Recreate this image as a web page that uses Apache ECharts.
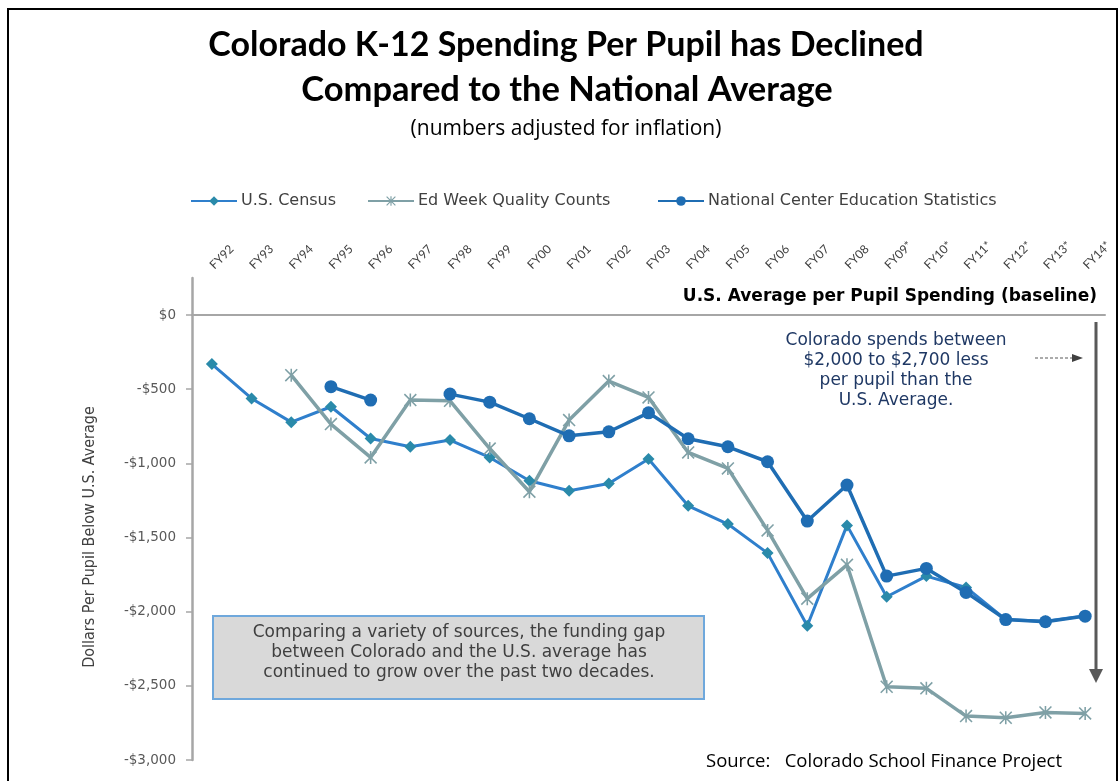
<!DOCTYPE html>
<html>
<head>
<meta charset="utf-8">
<script src="https://cdn.jsdelivr.net/npm/echarts@6/dist/echarts.min.js"></script>
<style>html,body{margin:0;padding:0;background:#fff;}#c{width:1120px;height:781px;}</style>
</head>
<body>
<div id="c"></div>
<script>
const categories = ['FY92','FY93','FY94','FY95','FY96','FY97','FY98','FY99','FY00','FY01','FY02','FY03','FY04','FY05','FY06','FY07','FY08','FY09*','FY10*','FY11*','FY12*','FY13*','FY14*'];
const usCensus = [-330,-562,-722,-618,-832,-888,-843,-960,-1117,-1185,-1135,-971,-1286,-1409,-1605,-2095,-1418,-1899,-1760,-1837,-2053,-2064,-2028];
const edWeek = [null,null,-405,-735,-960,-573,-578,-900,-1191,-708,-445,-555,-926,-1034,-1452,-1912,-1684,-2506,-2517,-2704,-2715,-2679,-2686];
const nces = [null,null,null,-483,-573,null,-533,-587,-699,-814,-787,-659,-834,-888,-989,-1389,-1146,-1760,-1708,-1870,-2053,-2068,-2030];
const yTicks = [-3000,-2500,-2000,-1500,-1000,-500,0];
const seriesNames = ['U.S. Census','Ed Week Quality Counts','National Center Education Statistics'];

const chart = echarts.init(document.getElementById('c'));
const asterisk = 'path://M4.4,0L5.6,0L5.6,10L4.4,10Z M0,0.85L0.85,0L10,9.15L9.15,10Z M9.15,0L10,0.85L0.85,10L0,9.15Z';
const F = '"Open Sans", sans-serif';
const D = '"DejaVu Sans", sans-serif';
function fmt(v){ return v === 0 ? '$0' : '-$' + Math.abs(v).toLocaleString('en-US'); }
const legendLeft = [185, 362, 652];
function mkLegend(i){
  return {
    left: legendLeft[i], top: 188, itemWidth: 46, itemHeight: 12, itemGap: 0,
    textStyle: { fontFamily: D, fontSize: 16, color: '#404040', padding: [0, 0, 0, -1] },
    data: [seriesNames[i]]
  };
}

chart.setOption({
  animation: false,
  backgroundColor: '#fff',
  grid: { left: 192, right: 15, top: 278, bottom: 21, containLabel: false },
  legend: [mkLegend(0), mkLegend(1), mkLegend(2)],
  xAxis: {
    type: 'category', data: categories, position: 'top',
    axisLine: { onZero: true, lineStyle: { color: '#A6A6A6', width: 2 } },
    axisTick: { inside: true, length: 5, lineStyle: { color: '#A6A6A6', width: 1.5 } },
    axisLabel: { rotate: 45, margin: 11, fontFamily: 'Lato, sans-serif', fontSize: 12, color: '#404040', interval: 0 },
    splitLine: { show: false }
  },
  yAxis: {
    type: 'value', min: -3000, max: 250,
    axisLine: { show: true, lineStyle: { color: '#A6A6A6', width: 2.5 } },
    axisTick: { show: true, length: 6, customValues: yTicks, lineStyle: { color: '#A6A6A6', width: 1.5 } },
    axisLabel: { customValues: yTicks, formatter: fmt, margin: 16, fontFamily: D, fontSize: 13.5, color: '#595959' },
    splitLine: { show: false }
  },
  series: [
    { name: seriesNames[0], type: 'line', data: usCensus, symbol: 'diamond', symbolSize: 12,
      lineStyle: { color: '#2F7FCC', width: 3 }, itemStyle: { color: '#2A8AAA' }, connectNulls: false },
    { name: seriesNames[1], type: 'line', data: edWeek, symbol: asterisk, symbolSize: 13,
      lineStyle: { color: '#7FA0A6', width: 3.5 }, itemStyle: { color: '#7FA0A6' }, connectNulls: false },
    { name: seriesNames[2], type: 'line', data: nces, symbol: 'circle', symbolSize: 13,
      lineStyle: { color: '#1F6DB3', width: 3.5 }, itemStyle: { color: '#1F6DB3' }, connectNulls: false }
  ],
  graphic: [
    { type: 'rect', shape: { x: 8, y: 9, width: 1109, height: 800 }, style: { fill: null, stroke: '#000', lineWidth: 2 }, silent: true },
    { type: 'text', x: 566, y: 45, style: { text: 'Colorado K-12 Spending Per Pupil has Declined', font: 'bold 34px Lato, sans-serif', fill: '#000', textAlign: 'center', textVerticalAlign: 'middle' } },
    { type: 'text', x: 567, y: 90, style: { text: 'Compared to the National Average', font: 'bold 34.5px Lato, sans-serif', fill: '#000', textAlign: 'center', textVerticalAlign: 'middle' } },
    { type: 'text', x: 566, y: 129, style: { text: '(numbers adjusted for inflation)', font: '21px ' + F, fill: '#000', textAlign: 'center', textVerticalAlign: 'middle' } },
    { type: 'text', x: 1097, y: 297, style: { text: 'U.S. Average per Pupil Spending (baseline)', font: 'bold 17px ' + D, fill: '#000', textAlign: 'right', textVerticalAlign: 'middle' } },
    { type: 'text', x: 90, y: 537, rotation: Math.PI / 2, style: { text: 'Dollars Per Pupil Below U.S. Average', font: '16px "Liberation Sans Narrow", "DejaVu Sans Condensed", sans-serif', fill: '#404040', textAlign: 'center', textVerticalAlign: 'middle' } },
    { type: 'text', x: 896, y: 331, style: { text: 'Colorado spends between\n$2,000 to $2,700 less\nper pupil than the\nU.S. Average.', font: '17px ' + D, lineHeight: 20, fill: '#1F3864', textAlign: 'center', textVerticalAlign: 'top' } },
    { type: 'line', shape: { x1: 1035, y1: 358, x2: 1074, y2: 358 }, style: { stroke: '#595959', lineWidth: 1, lineDash: [3, 2] } },
    { type: 'polygon', shape: { points: [[1072, 354], [1083, 358], [1072, 362]] }, style: { fill: '#404040' } },
    { type: 'line', shape: { x1: 1096, y1: 322, x2: 1096, y2: 670 }, style: { stroke: '#595959', lineWidth: 3 } },
    { type: 'polygon', shape: { points: [[1089, 669], [1103, 669], [1096, 683]] }, style: { fill: '#595959' } },
    { type: 'rect', shape: { x: 213, y: 616, width: 491, height: 83 }, style: { fill: '#D9D9D9', stroke: '#6FA8DC', lineWidth: 2 } },
    { type: 'text', x: 459, y: 623, style: { text: 'Comparing a variety of sources, the funding gap\nbetween Colorado and the U.S. average has\ncontinued to grow over the past two decades.', font: '17px ' + D, lineHeight: 20, fill: '#3F3F3F', textAlign: 'center', textVerticalAlign: 'top' } },
    { type: 'text', x: 706, y: 762, style: { text: 'Source:   Colorado School Finance Project', font: '18.5px ' + F, fill: '#000', textAlign: 'left', textVerticalAlign: 'middle' } }
  ]
});
</script>
</body>
</html>
